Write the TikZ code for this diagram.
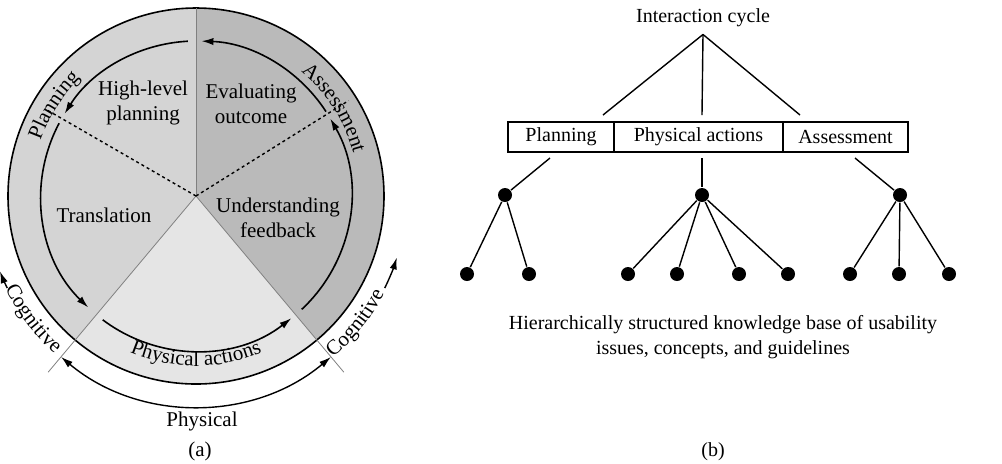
\documentclass[tikz,border=0pt]{standalone}
\usepackage{fontspec}
\setmainfont{Liberation Serif}
\usetikzlibrary{arrows.meta,positioning,decorations.text}
\definecolor{secleft}{gray}{0.83}
\definecolor{secright}{gray}{0.73}
\definecolor{secbottom}{gray}{0.90}
\newcommand{\lfont}{\fontsize{10.5}{12.5}\selectfont}
\newcommand{\rfont}{\fontsize{10}{12.5}\selectfont}

\begin{document}
\begin{tikzpicture}[x=0.5pt, y=0.5pt, >={Latex[length=6pt, width=3.6pt]}, line width=0.7pt,
    cyc/.style={line width=0.8pt, ->},
    rim/.style={gray, line width=0.4pt},
    dot/.style={circle, fill, inner sep=0pt, minimum size=7pt},
    cell/.style={draw, line width=0.8pt, inner sep=0pt, outer sep=0pt, minimum height=15pt, font=\rfont},
    sector/.style={font=\lfont, align=center}]
  \useasboundingbox (0,0) rectangle (1002,-463);
  \coordinate (C) at (196,-196);
  % (a) the cycle
  \fill[secleft] (C) -- ([shift={(90:188)}]C) arc[start angle=90, end angle=230, radius=188] -- cycle;
  \fill[secright] (C) -- ([shift={(-50:188)}]C) arc[start angle=-50, end angle=90, radius=188] -- cycle;
  \fill[secbottom] (C) -- ([shift={(230:188)}]C) arc[start angle=230, end angle=310, radius=188] -- cycle;
  \draw[line width=0.8pt] (C) circle[radius=188];
  \draw[rim] (C) -- ([shift={(90:188)}]C);
  \draw[rim] (C) -- ([shift={(230:230)}]C);
  \draw[rim] (C) -- ([shift={(310:230)}]C);
  \draw[dash pattern=on 1.5pt off 1.5pt] (C) -- ([shift={(150:172)}]C);
  \draw[dash pattern=on 1.5pt off 1.5pt] (C) -- ([shift={(32:180)}]C);
  \draw[cyc] ([shift={(-47:155)}]C) arc[start angle=-47, end angle=30, radius=155];
  \draw[cyc] ([shift={(33:155)}]C) arc[start angle=33, end angle=88, radius=155];
  \draw[cyc] ([shift={(93:155)}]C) arc[start angle=93, end angle=148, radius=155];
  \draw[cyc] ([shift={(152:155)}]C) arc[start angle=152, end angle=226, radius=155];
  \draw[cyc] ([shift={(233:155)}]C) arc[start angle=233, end angle=308, radius=155];
  \node[sector] (hlp)  at (143,-103) {High-level\\planning};
  \node[sector] (eval) at (251,-104) {Evaluating\\outcome};
  \node[sector] (trans) at (104,-215) {Translation};
  \node[sector] (undf) at (278,-218) {Understanding\\feedback};
  \path[decorate, decoration={text along path, text align=center, text={|\lfont|Planning}}]
    ([shift={(175:165)}]C) arc[start angle=175, end angle=120, radius=165];
  \path[decorate, decoration={text along path, text align=center, text={|\lfont|Assessment}}]
    ([shift={(70:163)}]C) arc[start angle=70, end angle=-5, radius=163];
  \path[decorate, decoration={text along path, text align=center, text={|\lfont|Physical actions}}]
    ([shift={(220:170)}]C) arc[start angle=220, end angle=320, radius=170];
  \path[decorate, decoration={text along path, text align=center, text={|\lfont|Cognitive}}]
    ([shift={(190:212)}]C) arc[start angle=190, end angle=244, radius=212];
  \path[decorate, decoration={text along path, text align=center, text={|\lfont|Cognitive}}]
    ([shift={(296:212)}]C) arc[start angle=296, end angle=347, radius=212];
  \draw[->] ([shift={(206:210)}]C) arc[start angle=206, end angle=201, radius=210];
  \draw[->] ([shift={(334:210)}]C) arc[start angle=334, end angle=343, radius=210];
  \draw[<->] ([shift={(230:210)}]C) arc[start angle=230, end angle=310, radius=210];
  \node[font=\lfont] (phy) at (202,-421) {Physical};
  \node[font=\lfont] (capa) at (200,-451) {(a)};
  % (b) the knowledge base
  \node[font=\rfont] (ic) at (703,-18) {Interaction cycle};
  \node[cell, minimum width=53pt] (plan) at (561,-137) {Planning};
  \node[cell, minimum width=84.5pt, right=0pt of plan] (act) {Physical actions};
  \node[cell, minimum width=62.5pt, right=0pt of act] (asmt) {Assessment};
  \coordinate (tl) at (603,-115);
  \coordinate (tm) at (702,-115);
  \coordinate (tr) at (800,-115);
  \coordinate (bl) at (550,-158);
  \coordinate (bm) at (702,-158);
  \coordinate (br) at (855,-158);
  \node[dot] (p0) at (505,-195) {};
  \node[dot] (p1) at (467,-274) {};
  \node[dot] (p2) at (529,-274) {};
  \node[dot] (m0) at (702,-195) {};
  \node[dot] (m1) at (628,-274) {};
  \node[dot] (m2) at (677,-274) {};
  \node[dot] (m3) at (739,-274) {};
  \node[dot] (m4) at (788,-274) {};
  \node[dot] (a0) at (900,-195) {};
  \node[dot] (a1) at (850,-274) {};
  \node[dot] (a2) at (899,-274) {};
  \node[dot] (a3) at (949,-274) {};
  \path (ic.south) edge (tl)
                   edge (tm)
                   edge (tr)
        (bl) edge (p0)
        (bm) edge (m0)
        (br) edge (a0)
        (p0) edge (p1)
             edge (p2)
        (m0) edge (m1)
             edge (m2)
             edge (m3)
             edge (m4)
        (a0) edge (a1)
             edge (a2)
             edge (a3);
  \node[font=\rfont, align=center] (kb) at (723,-337) {Hierarchically structured knowledge base of usability\\issues, concepts, and guidelines};
  \node[font=\rfont] (capb) at (713,-452) {(b)};
\end{tikzpicture}
\end{document}
